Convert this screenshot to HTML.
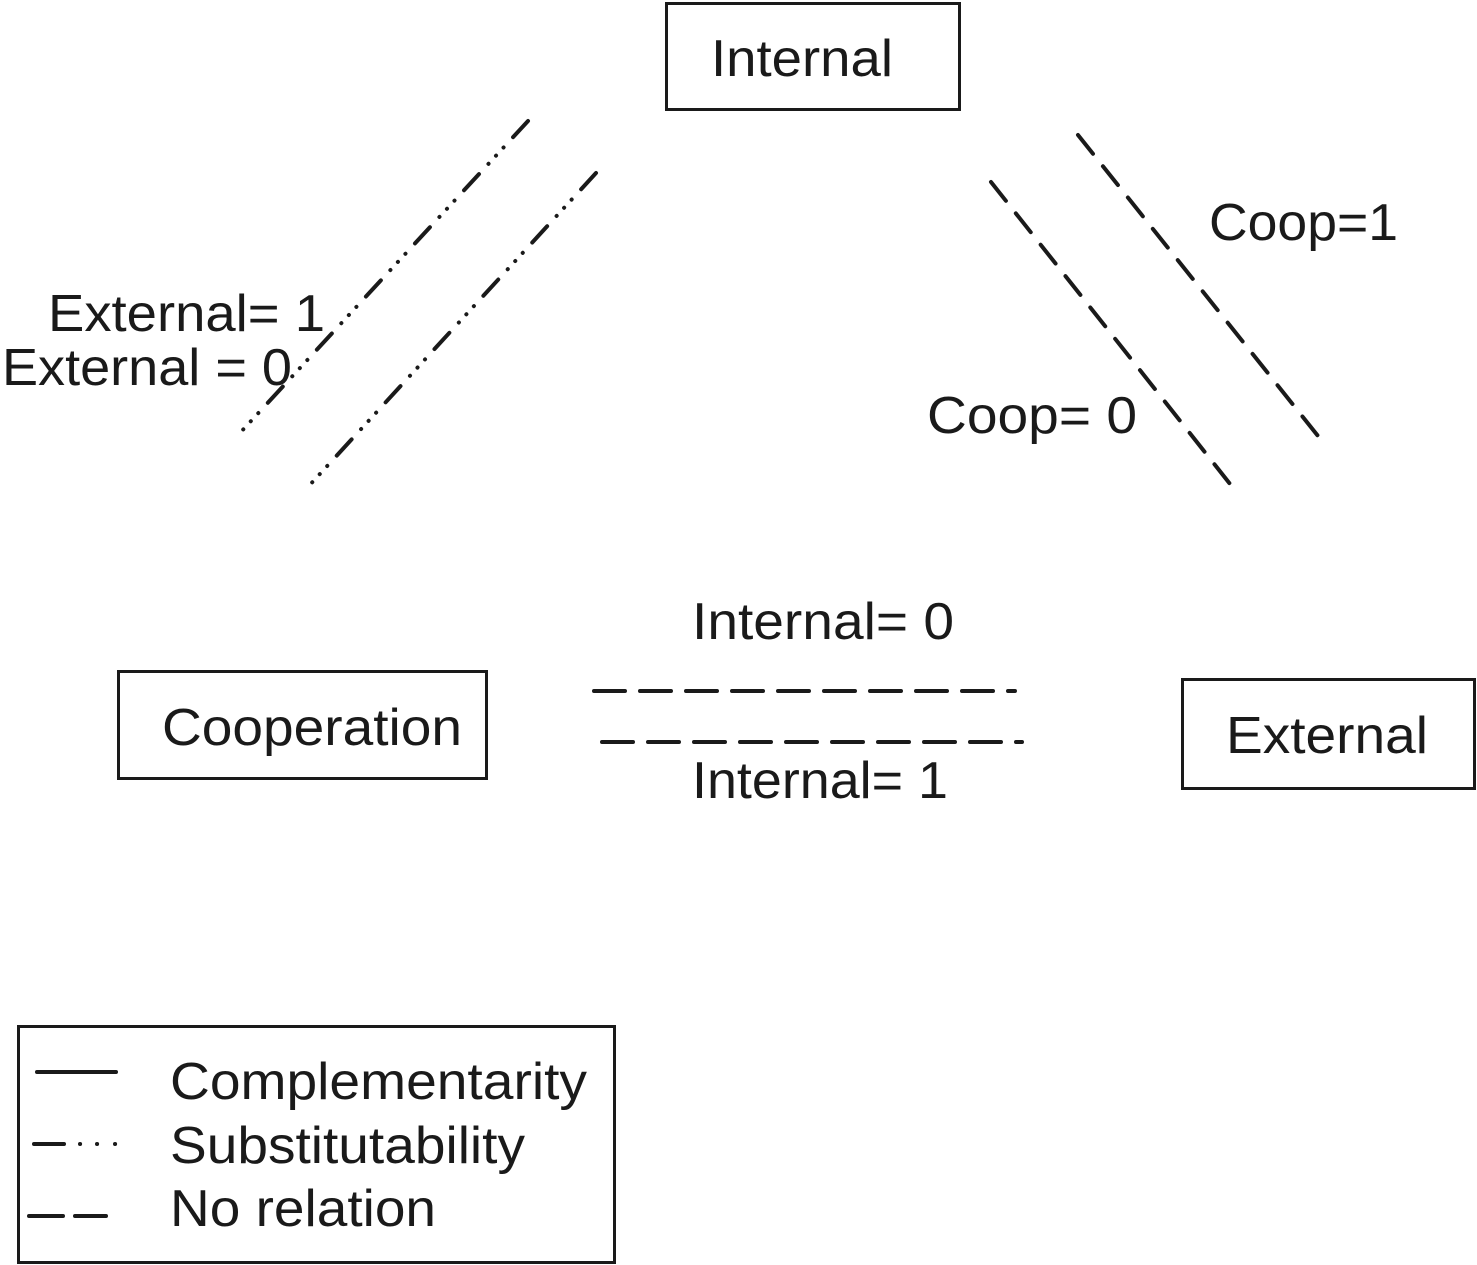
<!DOCTYPE html>
<html><head><meta charset="utf-8"><style>
html,body{margin:0;padding:0;background:#fff;}
svg{display:block;}
text{font-family:"Liberation Sans",sans-serif;font-size:52px;fill:#1a1a1a;}
</style></head><body>
<svg width="1477" height="1265" viewBox="0 0 1477 1265" xmlns="http://www.w3.org/2000/svg">
<g fill="none" stroke="#1a1a1a" stroke-width="3">
<rect x="666.5" y="3.5" width="293" height="106"/>
<rect x="118.5" y="671.5" width="368" height="107"/>
<rect x="1182.5" y="679.5" width="292" height="109"/>
<rect x="18.5" y="1026.5" width="596" height="236"/>
</g>
<g fill="none" stroke="#1a1a1a" stroke-width="4" stroke-linecap="round">
<line x1="528" y1="121" x2="239" y2="434" stroke-dasharray="22 14 0.1 11 0.1 11 0.1 14"/>
<line x1="596" y1="173" x2="307" y2="488" stroke-dasharray="22 14 0.1 11 0.1 11 0.1 14"/>
<line x1="1078" y1="135" x2="1326" y2="446" stroke-dasharray="24 16"/>
<line x1="991" y1="182" x2="1238" y2="494" stroke-dasharray="24 16"/>
<line x1="594" y1="691" x2="1015" y2="691" stroke-dasharray="31 15"/>
<line x1="602" y1="742" x2="1022" y2="742" stroke-dasharray="31 15"/>
<line x1="37" y1="1072" x2="116" y2="1072"/>
<line x1="34" y1="1144" x2="64" y2="1144"/>
<line x1="80" y1="1144" x2="80.1" y2="1144"/>
<line x1="97" y1="1144" x2="97.1" y2="1144"/>
<line x1="115" y1="1144" x2="115.1" y2="1144"/>
<line x1="29" y1="1216" x2="63" y2="1216"/>
<line x1="75" y1="1216" x2="106" y2="1216"/>
</g>
<text x="711" y="76" textLength="182" lengthAdjust="spacingAndGlyphs">Internal</text>
<text x="1209" y="240" textLength="189" lengthAdjust="spacingAndGlyphs">Coop=1</text>
<text x="48" y="331" textLength="277" lengthAdjust="spacingAndGlyphs">External= 1</text>
<text x="2" y="385" textLength="290" lengthAdjust="spacingAndGlyphs">External = 0</text>
<text x="927" y="433" textLength="210" lengthAdjust="spacingAndGlyphs">Coop= 0</text>
<text x="692" y="639" textLength="262" lengthAdjust="spacingAndGlyphs">Internal= 0</text>
<text x="162" y="745" textLength="300" lengthAdjust="spacingAndGlyphs">Cooperation</text>
<text x="1226" y="753" textLength="202" lengthAdjust="spacingAndGlyphs">External</text>
<text x="692" y="798" textLength="256" lengthAdjust="spacingAndGlyphs">Internal= 1</text>
<text x="170" y="1099" textLength="417" lengthAdjust="spacingAndGlyphs">Complementarity</text>
<text x="170" y="1163" textLength="355" lengthAdjust="spacingAndGlyphs">Substitutability</text>
<text x="170" y="1226" textLength="266" lengthAdjust="spacingAndGlyphs">No relation</text>
</svg>
</body></html>
